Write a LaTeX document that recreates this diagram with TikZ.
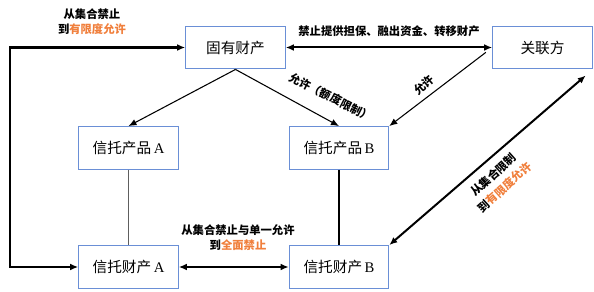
\documentclass[tikz,border=0pt]{standalone}
\usepackage{fontspec}
\setmainfont{Liberation Serif}
\newfontfamily\cjk{Noto Sans CJK SC}
\usetikzlibrary{arrows.meta, positioning, calc}
\definecolor{boxblue}{HTML}{6A8FD6}
\definecolor{noteorange}{HTML}{F07F3C}
\definecolor{linkgray}{HTML}{5E5E5E}
\newcommand{\hot}[1]{\textcolor{noteorange}{#1}}

\begin{document}
\begin{tikzpicture}[x=0.75pt, y=-0.75pt,
    box/.style={draw=boxblue, line width=0.9pt, fill=white,
                minimum width=74.5pt, minimum height=32pt, inner sep=0pt,
                font=\fontsize{11}{13}\selectfont\cjk},
    note/.style={font=\fontsize{8.5}{11.2}\selectfont\cjk\bfseries,
                 align=center, inner sep=1pt},
    oneway/.style={-{Latex[length=6pt, width=5pt]}, line width=0.8pt},
    twoway/.style={{Latex[length=6pt, width=5pt]}-{Latex[length=6pt, width=5pt]},
                   line width=1.5pt}]
  \useasboundingbox (0,0) rectangle (594,292);
  % boxes
  \node[box] (own) at (235.5,47.5) {固有财产};
  \node[box] (rel) at (542.5,47.5) {关联方};
  \foreach \s/\x in {A/128.5, B/339}{%
    \node[box] (prod\s) at (\x,148) {信托产品\,{\rmfamily\s}};
    \node[box] (prop\s) at (\x,267) {信托财产\,{\rmfamily\s}};}
  % links
  \draw[linkgray, line width=1pt] (prodA) -- (propA);
  \draw[line width=0.8pt] (prodB) -- (propB);
  \draw[oneway] (own.south) -- (prodA.north);
  \draw[oneway] (own.south) -- (prodB.north);
  \draw[oneway, shorten <=6pt] (rel.west) -- (prodB.north east);
  \coordinate (elbow) at (10,267);
  \draw[twoway, line width=1.7pt] (own.west) -| (elbow) -- (propA.west);
  \draw[twoway] (own) -- node[note, above=6pt] {禁止提供担保、融出资金、转移财产} (rel);
  \draw[twoway] (propA) -- (propB);
  \draw[twoway, shorten <=7pt] (rel.south east) -- (propB.north east);
  % notes
  \node[note] (noteleft) at (92,21.5) {从集合禁止\\到\hot{有限度允许}};
  \node[note] (notebot) at (238,238) {从集合禁止与单一允许\\到\hot{全面禁止}};
  \node[note, rotate=-27] (noteamt) at (331,97) {允许（额度限制）};
  \node[note, rotate=41] (noterel) at (424,85) {允许};
  \node[note, rotate=42, font=\fontsize{8.5}{12.6}\selectfont\cjk\bfseries]
    (notediag) at (499,181) {从集合限制\\到\hot{有限度允许}};
\end{tikzpicture}
\end{document}
